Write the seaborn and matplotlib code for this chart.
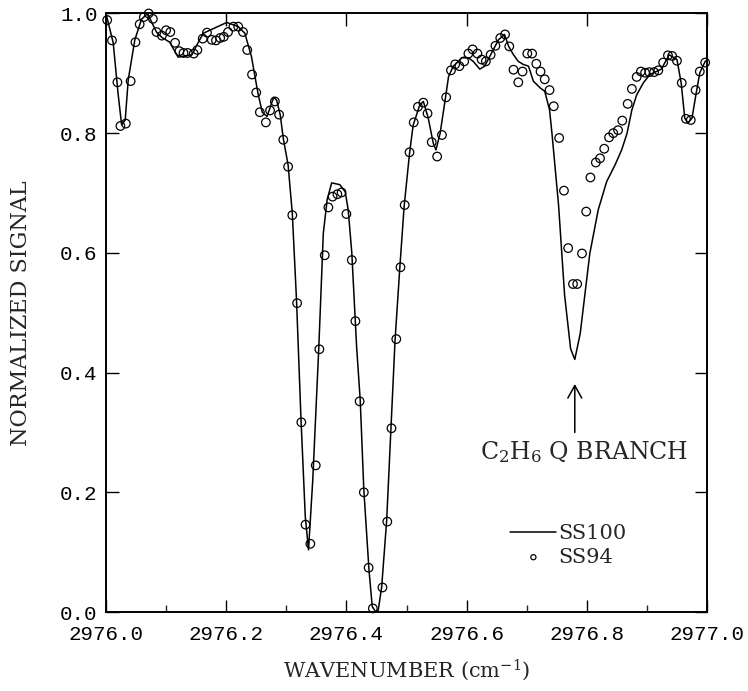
import matplotlib
matplotlib.use("Agg")
import matplotlib.pyplot as plt
from matplotlib.ticker import MultipleLocator
import seaborn as sns
import pandas as pd

# SS94 measured spectrum (circles)
wn_ss94 = [
    2976.002, 2976.010, 2976.019, 2976.024, 2976.033, 2976.041, 2976.049, 2976.056,
    2976.063, 2976.071, 2976.078, 2976.084, 2976.093, 2976.100, 2976.107, 2976.115,
    2976.122, 2976.129, 2976.136, 2976.146, 2976.152, 2976.161, 2976.168, 2976.176,
    2976.183, 2976.190, 2976.196, 2976.203, 2976.212, 2976.220, 2976.228, 2976.235,
    2976.243, 2976.250, 2976.256, 2976.266, 2976.273, 2976.281, 2976.288, 2976.295,
    2976.303, 2976.310, 2976.318, 2976.325, 2976.332, 2976.340, 2976.349, 2976.355,
    2976.364, 2976.370, 2976.377, 2976.385, 2976.392, 2976.400, 2976.409, 2976.415,
    2976.422, 2976.429, 2976.437, 2976.444, 2976.460, 2976.468, 2976.475, 2976.483,
    2976.490, 2976.497, 2976.505, 2976.512, 2976.519, 2976.528, 2976.535, 2976.542,
    2976.551, 2976.559, 2976.566, 2976.574, 2976.581, 2976.588, 2976.596, 2976.603,
    2976.610, 2976.618, 2976.625, 2976.632, 2976.640, 2976.648, 2976.656, 2976.664,
    2976.671, 2976.678, 2976.686, 2976.693, 2976.701, 2976.709, 2976.716, 2976.723,
    2976.730, 2976.738, 2976.745, 2976.754, 2976.762, 2976.769, 2976.777, 2976.784,
    2976.792, 2976.799, 2976.806, 2976.815, 2976.822, 2976.829, 2976.837, 2976.844,
    2976.852, 2976.859, 2976.868, 2976.875, 2976.883, 2976.890, 2976.897, 2976.904,
    2976.912, 2976.919, 2976.927, 2976.935, 2976.942, 2976.950, 2976.958, 2976.965,
    2976.973, 2976.981, 2976.988, 2976.997,
]
sig_ss94 = [
    0.989, 0.955, 0.885, 0.812, 0.816, 0.887, 0.952, 0.982,
    0.994, 1.000, 0.991, 0.969, 0.963, 0.972, 0.969, 0.951,
    0.937, 0.934, 0.934, 0.933, 0.939, 0.958, 0.968, 0.956,
    0.955, 0.959, 0.961, 0.969, 0.978, 0.978, 0.969, 0.939,
    0.898, 0.868, 0.835, 0.818, 0.838, 0.853, 0.831, 0.789,
    0.744, 0.663, 0.516, 0.317, 0.146, 0.114, 0.245, 0.439,
    0.596, 0.676, 0.694, 0.698, 0.701, 0.665, 0.588, 0.486,
    0.352, 0.200, 0.074, 0.006, 0.041, 0.151, 0.307, 0.456,
    0.576, 0.680, 0.768, 0.818, 0.844, 0.851, 0.833, 0.785,
    0.761, 0.797, 0.860, 0.905, 0.915, 0.912, 0.920, 0.933,
    0.940, 0.933, 0.923, 0.920, 0.931, 0.946, 0.959, 0.965,
    0.945, 0.906, 0.885, 0.903, 0.933, 0.933, 0.916, 0.903,
    0.890, 0.872, 0.845, 0.792, 0.704, 0.608, 0.548, 0.548,
    0.599, 0.669, 0.726, 0.751, 0.758, 0.774, 0.793, 0.800,
    0.805, 0.821, 0.849, 0.874, 0.894, 0.903, 0.901, 0.902,
    0.902, 0.905, 0.918, 0.930, 0.929, 0.921, 0.884, 0.824,
    0.822, 0.872, 0.903, 0.918,
]

# SS100 spectrum (solid line)
wn_ss100 = [
    2976.000, 2976.012, 2976.020, 2976.026, 2976.032, 2976.037, 2976.048, 2976.059,
    2976.069, 2976.084, 2976.093, 2976.106, 2976.120, 2976.131, 2976.143, 2976.151,
    2976.162, 2976.201, 2976.220, 2976.231, 2976.242, 2976.253, 2976.260, 2976.268,
    2976.279, 2976.284, 2976.290, 2976.295, 2976.303, 2976.310, 2976.317, 2976.3245,
    2976.3316, 2976.337, 2976.344, 2976.354, 2976.3616, 2976.368, 2976.3755, 2976.389,
    2976.398, 2976.403, 2976.409, 2976.417, 2976.423, 2976.429, 2976.4376, 2976.443,
    2976.449, 2976.453, 2976.4587, 2976.467, 2976.474, 2976.481, 2976.489, 2976.496,
    2976.505, 2976.511, 2976.522, 2976.528, 2976.536, 2976.5446, 2976.549, 2976.556,
    2976.566, 2976.570, 2976.578, 2976.592, 2976.603, 2976.611, 2976.622, 2976.630,
    2976.639, 2976.653, 2976.663, 2976.670, 2976.678, 2976.686, 2976.694, 2976.703,
    2976.711, 2976.722, 2976.730, 2976.738, 2976.742, 2976.753, 2976.763, 2976.773,
    2976.780, 2976.789, 2976.797, 2976.805, 2976.819, 2976.833, 2976.847, 2976.858,
    2976.867, 2976.875, 2976.883, 2976.894, 2976.905, 2976.924, 2976.937, 2976.950,
    2976.957, 2976.963, 2976.968, 2976.975, 2976.982, 2976.988, 2976.997, 2977.000,
]
sig_ss100 = [
    1.000, 0.951, 0.867, 0.814, 0.822, 0.889, 0.956, 0.990,
    1.000, 0.969, 0.960, 0.952, 0.927, 0.929, 0.931, 0.947,
    0.967, 0.985, 0.978, 0.967, 0.928, 0.866, 0.835, 0.828,
    0.860, 0.855, 0.830, 0.791, 0.747, 0.666, 0.521, 0.321,
    0.159, 0.104, 0.220, 0.440, 0.633, 0.689, 0.717, 0.714,
    0.702, 0.672, 0.600, 0.443, 0.354, 0.204, 0.070, 0.009,
    0.000, 0.003, 0.042, 0.153, 0.304, 0.455, 0.577, 0.677,
    0.766, 0.813, 0.847, 0.853, 0.826, 0.783, 0.772, 0.800,
    0.867, 0.895, 0.912, 0.926, 0.926, 0.920, 0.907, 0.912,
    0.929, 0.956, 0.965, 0.945, 0.931, 0.920, 0.915, 0.912,
    0.887, 0.876, 0.870, 0.839, 0.800, 0.680, 0.530, 0.440,
    0.422, 0.465, 0.532, 0.599, 0.672, 0.719, 0.747, 0.772,
    0.800, 0.839, 0.864, 0.884, 0.898, 0.907, 0.931, 0.923,
    0.884, 0.825, 0.817, 0.825, 0.867, 0.901, 0.920, 0.922,
]

x_ticks = [2976.0, 2976.2, 2976.4, 2976.6, 2976.8, 2977.0]
y_ticks = [0.0, 0.2, 0.4, 0.6, 0.8, 1.0]

df94 = pd.DataFrame({"wavenumber": wn_ss94, "signal": sig_ss94})
df100 = pd.DataFrame({"wavenumber": wn_ss100, "signal": sig_ss100})

sns.set_style("ticks")
plt.rcParams["font.family"] = ["DejaVu Serif"]
plt.rcParams["mathtext.fontset"] = "dejavuserif"

fig, ax = plt.subplots(figsize=(7.48, 6.91), dpi=100)
fig.subplots_adjust(left=0.1417, right=0.9452, bottom=0.1143, top=0.9805)

sns.lineplot(data=df100, x="wavenumber", y="signal", color="black", linewidth=1.1,
             sort=False, ax=ax, label="SS100")
sns.scatterplot(data=df94, x="wavenumber", y="signal", marker="o", s=38,
                facecolor="none", edgecolor="black", linewidth=0.9, ax=ax,
                label="SS94", clip_on=False, zorder=3)

ax.set_xlim(2976.0, 2977.0)
ax.set_ylim(0.0, 1.0)
ax.set_xticks(x_ticks)
ax.set_yticks(y_ticks)
ax.set_xticklabels([f"{v:.1f}" for v in x_ticks], family="Liberation Mono")
ax.set_yticklabels([f"{v:.1f}" for v in y_ticks], family="Liberation Mono")
ax.xaxis.set_minor_locator(MultipleLocator(0.1))
ax.tick_params(axis="both", which="major", direction="in", length=9, width=1,
               labelsize=15, top=True, right=True, pad=6, colors="black")
ax.tick_params(axis="x", which="major", pad=9)
ax.tick_params(axis="x", which="minor", direction="in", length=5, width=1,
               top=False, bottom=True)
for sp in ax.spines.values():
    sp.set_linewidth(1.4)
    sp.set_color("black")

ax.set_xlabel("WAVENUMBER (cm$^{-1}$)", fontsize=15, labelpad=10)
ax.set_ylabel("NORMALIZED SIGNAL", fontsize=16, labelpad=20)

ax.annotate("", xy=(2976.780, 0.381), xytext=(2976.780, 0.300),
            arrowprops=dict(arrowstyle="->,head_length=0.9,head_width=0.5",
                            color="black", lw=1.1, shrinkA=0, shrinkB=0))
ax.text(2976.796, 0.268, "C$_2$H$_6$ Q BRANCH", fontsize=17, ha="center", va="center")

ax.legend(loc="center left", bbox_to_anchor=(0.673, 0.111), frameon=False,
          fontsize=15, handlelength=2.2, handletextpad=0.1, labelspacing=0.2,
          borderpad=0, borderaxespad=0, markerscale=0.6)

fig.savefig("out.png", dpi=100)
